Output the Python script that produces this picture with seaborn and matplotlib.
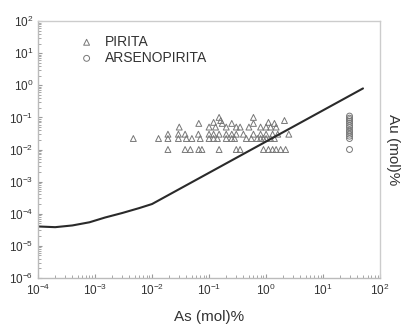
import numpy as np
import pandas as pd
import matplotlib
matplotlib.use('Agg')
import matplotlib.pyplot as plt
import seaborn as sns

# PIRITA data (As mol%, Au mol%)
pirita_x = [0.019, 0.038, 0.047, 0.066, 0.075, 0.15, 0.3, 0.35, 0.9, 1.1, 1.3, 1.5, 1.8, 2.2,
            0.0047, 0.013, 0.019, 0.029, 0.04, 0.05, 0.07, 0.1, 0.12, 0.14, 0.2, 0.25, 0.28,
            0.45, 0.55, 0.7, 0.8, 0.9, 1.0, 1.2, 1.4,
            0.019, 0.029, 0.038, 0.065, 0.1, 0.12, 0.15, 0.2, 0.25, 0.3, 0.4, 0.6, 0.8, 1.0,
            1.3, 1.6, 2.5,
            0.03, 0.1, 0.13, 0.2, 0.3, 0.35, 0.5, 0.8, 1.0, 1.2, 1.5,
            0.066, 0.12, 0.16, 0.17, 0.25, 0.6, 1.1, 1.4, 2.1,
            0.15, 0.6]
pirita_y = [0.01] * 14 + [0.022] * 21 + [0.03] * 17 + [0.05] * 11 + \
           [0.065, 0.07, 0.08, 0.065, 0.065, 0.065, 0.07, 0.065, 0.08] + [0.1, 0.1]

# ARSENOPIRITA data
arseno_x = [29, 29, 29, 29, 29, 29, 29, 29, 29, 29, 29, 29, 29]
arseno_y = [0.11, 0.095, 0.085, 0.075, 0.065, 0.055, 0.048, 0.04, 0.035, 0.03, 0.026, 0.022, 0.01]

# solubility curve
curve_x = [1e-4, 2e-4, 4e-4, 8e-4, 1.5e-3, 3e-3, 6e-3, 1e-2, 50]
curve_y = [4.0e-5, 3.8e-5, 4.3e-5, 5.4e-5, 7.6e-5, 1.05e-4, 1.5e-4, 2.0e-4, 0.8]

sns.set_style('white')
plt.rcParams['font.family'] = ['Liberation Sans', 'DejaVu Sans']
plt.rcParams['mathtext.fontset'] = 'custom'
plt.rcParams['mathtext.rm'] = 'Liberation Sans'

fig = plt.figure(figsize=(4.04, 3.25), dpi=100)
ax = fig.add_axes([0.094, 0.145, 0.847, 0.79])

pir = pd.DataFrame({'x': pirita_x, 'y': pirita_y})
ars = pd.DataFrame({'x': arseno_x, 'y': arseno_y})
cur = pd.DataFrame({'x': curve_x, 'y': curve_y})

sns.lineplot(data=cur, x='x', y='y', ax=ax, color='#2a2a2a', linewidth=1.5, sort=False)
sns.scatterplot(data=pir, x='x', y='y', ax=ax, marker='^', s=18, facecolor='none',
                edgecolor='#777777', linewidth=0.7, label='PIRITA')
sns.scatterplot(data=ars, x='x', y='y', ax=ax, marker='o', s=18, facecolor='none',
                edgecolor='#777777', linewidth=0.7, label='ARSENOPIRITA')

ax.set_xscale('log')
ax.set_yscale('log')
ax.set_xlim(1e-4, 1e2)
ax.set_ylim(1e-6, 1e2)
ax.set_xticks([1e-4, 1e-3, 1e-2, 1e-1, 1e0, 1e1, 1e2])
ax.set_yticks([1e-6, 1e-5, 1e-4, 1e-3, 1e-2, 1e-1, 1e0, 1e1, 1e2])

ax.set_xlabel('As (mol)%', fontsize=11, color='#333333', labelpad=9)
ax.set_ylabel('Au (mol)%', fontsize=11, color='#333333', rotation=-90, labelpad=14)
ax.yaxis.set_label_position('right')

for s in ax.spines.values():
    s.set_color('#cccccc')
    s.set_linewidth(1)
ax.spines['left'].set_color('#bbbbbb')
ax.spines['bottom'].set_color('#bbbbbb')

ax.tick_params(which='both', direction='in', colors='#999999', labelcolor='#333333',
               labelsize=8.5, top=False, right=False, left=True, bottom=True)
ax.tick_params(which='major', length=3)
ax.tick_params(which='minor', length=2)

leg = ax.legend(loc='upper left', frameon=False, fontsize=10, bbox_to_anchor=(0.065, 0.995),
                handletextpad=0.3, labelspacing=0.15, markerscale=1.0)
for t in leg.get_texts():
    t.set_color('#333333')

fig.savefig('out.png', dpi=100)
